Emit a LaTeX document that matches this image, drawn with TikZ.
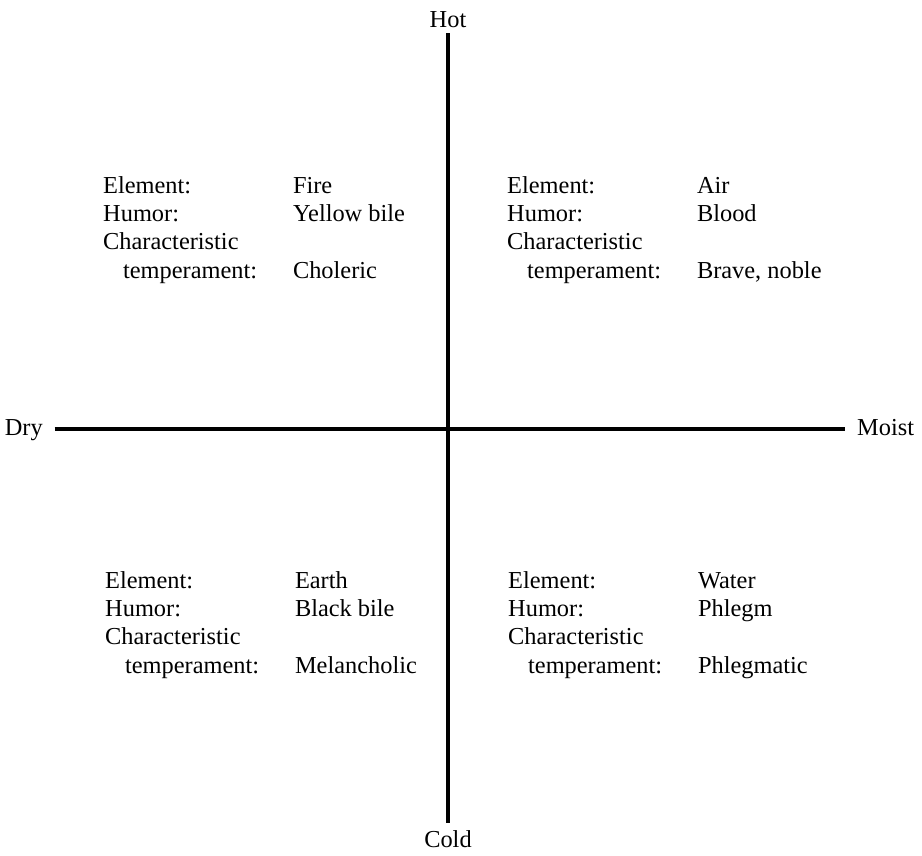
\documentclass[tikz,border=0pt]{standalone}
\usepackage{fontspec}
\setmainfont{Liberation Serif}
\usetikzlibrary{positioning}
\newcommand{\humorbox}[3]{%
  \begin{tabular}[t]{@{}p{162pt}@{}l@{}}
    Element: & #1\\
    Humor: & #2\\
    Characteristic & \\
    \hspace*{17pt}temperament: & #3
  \end{tabular}}

\begin{document}
\begin{tikzpicture}[
    x=0.03cm, y=-0.03cm,
    pole/.style={inner sep=10pt, font=\fontsize{20.8}{24.3}\selectfont},
    quad/.style={anchor=base west, inner sep=0pt, font=\fontsize{20.8}{24.3}\selectfont},
    axis/.style={line width=3pt}
]
\useasboundingbox (0,0) rectangle (922,855);
% the two axes and their ends
\coordinate (mid) at (448,429);
\node[pole, anchor=base, inner sep=5pt] (hot) at (448,27) {Hot};
\node[pole, anchor=base] (cold) at (448,847) {Cold};
\node[pole, anchor=base east, inner sep=0pt] (dry) at (43,435) {Dry};
\node[pole, anchor=base west, inner sep=0pt] (moist) at (857,435) {Moist};
\draw[axis] (hot.south) -- ([yshift=-4pt]cold.north);
\draw[axis] ([xshift=10pt]dry.east |- mid) -- ([xshift=-10pt]moist.west |- mid);
% the four quadrants
\node[quad] (fire) at (103,193) {\humorbox{Fire}{Yellow bile}{Choleric}};
\node[quad] (air) at (507,193) {\humorbox{Air}{Blood}{Brave, noble}};
\node[quad] (earth) at (105,588) {\humorbox{Earth}{Black bile}{Melancholic}};
\node[quad] (water) at (508,588) {\humorbox{Water}{Phlegm}{Phlegmatic}};
\end{tikzpicture}
\end{document}
